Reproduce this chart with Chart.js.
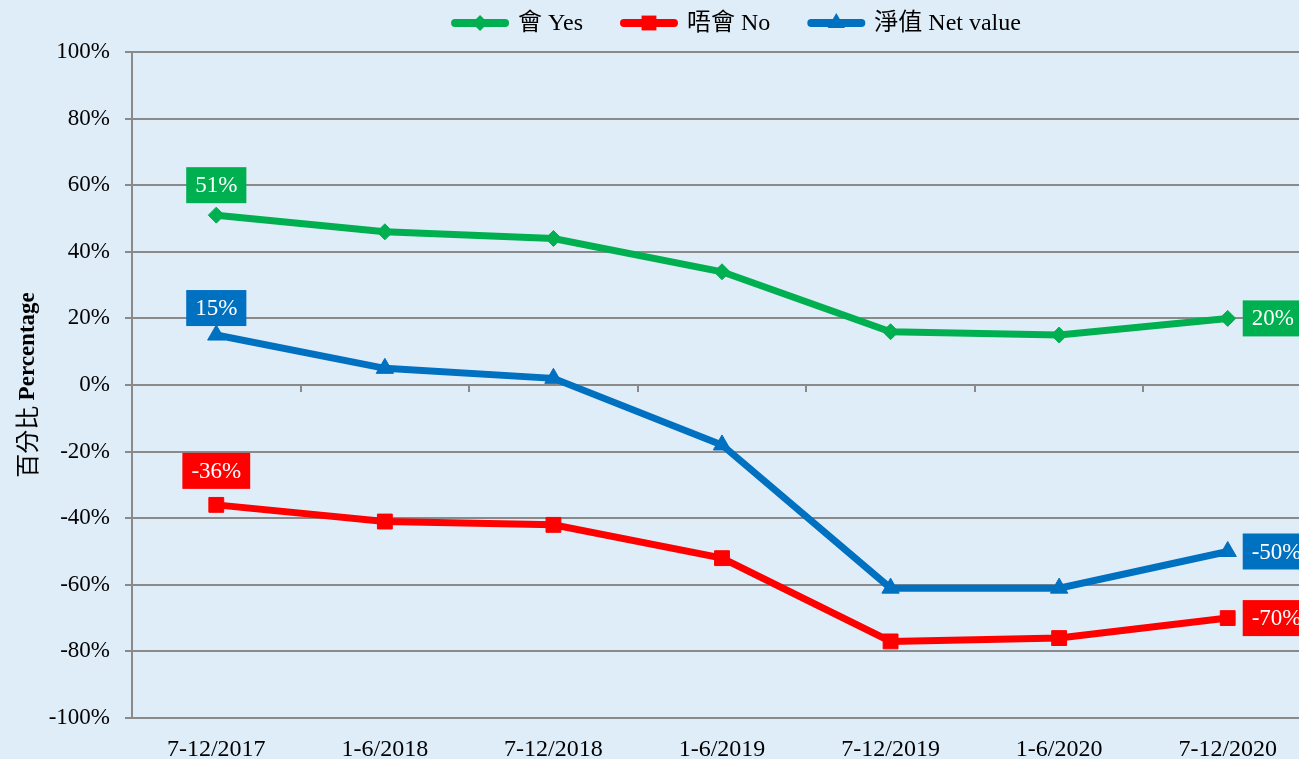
<!DOCTYPE html>
<html>
<head>
<meta charset="utf-8">
<script src="https://cdn.jsdelivr.net/npm/chart.js@4.4.1/dist/chart.umd.min.js"></script>
<style>
  html, body { margin: 0; padding: 0; overflow: hidden; background: #dfedf9; }
  #wrap { width: 1312px; height: 759px; }
  canvas { display: block; }
</style>
</head>
<body>
<div id="wrap"><canvas id="chart" width="1312" height="759"></canvas></div>
<script>
// periods on the x axis
const periods = ['7-12/2017', '1-6/2018', '7-12/2018', '1-6/2019', '7-12/2019', '1-6/2020', '7-12/2020'];
// percentages
const yesValues = [51, 46, 44, 34, 16, 15, 20];
const noValues = [-36, -41, -42, -52, -77, -76, -70];
const netValues = [15, 5, 2, -18, -61, -61, -50];

const BG = '#dfedf9';
const GRID = '#8a8a8a';
const SERIF = '"Liberation Serif", "Noto Sans CJK TC", serif';

// paint the light blue background
const background = {
  id: 'background',
  beforeDraw(chart) {
    const ctx = chart.ctx;
    ctx.save();
    ctx.fillStyle = BG;
    ctx.fillRect(0, 0, chart.width, chart.height);
    ctx.restore();
  }
};

// coloured boxes on first and last point of each line
const endLabels = {
  id: 'endLabels',
  afterDatasetsDraw(chart) {
    const ctx = chart.ctx;
    ctx.save();
    ctx.font = '23px ' + SERIF;
    ctx.textAlign = 'center';
    ctx.textBaseline = 'middle';
    chart.data.datasets.forEach((ds, i) => {
      const pts = chart.getDatasetMeta(i).data;
      [0, pts.length - 1].forEach(j => {
        const p = pts[j];
        const text = ds.data[j] + '%';
        const w = ctx.measureText(text).width + 18;
        const h = 36;
        let x, y;
        if (j === 0) {
          x = p.x - w / 2;
          y = p.y - ds.labelGap - h;
        } else {
          x = p.x + 15;
          y = p.y - h / 2;
        }
        ctx.fillStyle = ds.borderColor;
        ctx.fillRect(x, y, w, h);
        ctx.fillStyle = '#ffffff';
        ctx.fillText(text, x + w / 2, y + h / 2 + 1);
      });
    });
    ctx.restore();
  }
};

// legend with a short line and marker, Excel style
const lineLegend = {
  id: 'lineLegend',
  afterDraw(chart) {
    const ctx = chart.ctx;
    ctx.save();
    ctx.font = '24px ' + SERIF;
    const lineLen = 58, gap = 9, itemGap = 37;
    const items = chart.data.datasets.map(ds => ({ ds, w: ctx.measureText(ds.label).width }));
    const total = items.reduce((s, it) => s + lineLen + gap + it.w, 0) + itemGap * (items.length - 1);
    let x = 736 - total / 2;
    const y = 23;
    items.forEach(it => {
      const c = it.ds.borderColor;
      ctx.strokeStyle = c;
      ctx.lineWidth = 8;
      ctx.lineCap = 'round';
      ctx.beginPath();
      ctx.moveTo(x + 4, y);
      ctx.lineTo(x + lineLen - 4, y);
      ctx.stroke();
      ctx.fillStyle = c;
      Chart.helpers.drawPoint(ctx, { pointStyle: it.ds.pointStyle, radius: it.ds.pointRadius, borderWidth: 0, rotation: 0 }, x + lineLen / 2, y);
      ctx.fillStyle = '#000000';
      ctx.textAlign = 'left';
      ctx.textBaseline = 'middle';
      ctx.fillText(it.ds.label, x + lineLen + gap, y + 1);
      x += lineLen + gap + it.w + itemGap;
    });
    ctx.restore();
  }
};

// rotated y title: Chinese regular, English bold
const yTitle = {
  id: 'yTitle',
  afterDraw(chart) {
    const ctx = chart.ctx;
    const a = chart.chartArea;
    const cn = '百分比 ';
    const en = 'Percentage';
    ctx.save();
    ctx.translate(27, (a.top + a.bottom) / 2);
    ctx.rotate(-Math.PI / 2);
    ctx.textBaseline = 'middle';
    ctx.textAlign = 'left';
    ctx.font = '24px "Noto Sans CJK TC", ' + SERIF;
    const wCn = ctx.measureText(cn).width;
    ctx.font = 'bold 23px ' + SERIF;
    const wEn = ctx.measureText(en).width;
    const start = -(wCn + wEn) / 2;
    ctx.fillStyle = '#000000';
    ctx.font = '24px "Noto Sans CJK TC", ' + SERIF;
    ctx.fillText(cn, start, 0);
    ctx.font = 'bold 23px ' + SERIF;
    ctx.fillText(en, start + wCn, 1);
    ctx.restore();
  }
};

function series(label, data, color, style, radius, labelGap) {
  return {
    label: label,
    data: data,
    borderColor: color,
    backgroundColor: color,
    borderWidth: 7,
    tension: 0,
    pointStyle: style,
    pointRadius: radius,
    pointBackgroundColor: color,
    pointBorderColor: color,
    pointBorderWidth: 1,
    labelGap: labelGap
  };
}

new Chart(document.getElementById('chart').getContext('2d'), {
  type: 'line',
  data: {
    labels: periods,
    datasets: [
      series('會 Yes', yesValues, '#00b050', 'rectRot', 8, 12),
      series('唔會 No', noValues, '#ff0000', 'rect', 10.5, 16),
      series('淨值 Net value', netValues, '#0070c0', 'triangle', 10, 9)
    ]
  },
  options: {
    responsive: false,
    animation: false,
    // canvas is a bit wider than the window so the plot runs past the right edge
    layout: { autoPadding: false, padding: { top: 52, left: 0, right: 0, bottom: 0 } },
    plugins: {
      legend: { display: false },
      tooltip: { enabled: false }
    },
    scales: {
      x: {
        offset: true,
        grid: { display: false },
        border: { display: false },
        ticks: { color: '#000000', font: { family: SERIF, size: 24 }, padding: 9, maxRotation: 0 },
        afterFit(scale) { scale.height = 41; scale.paddingLeft = 0; scale.paddingRight = 0; }
      },
      // small tick marks along the 0% line
      x2: {
        type: 'category',
        position: { y: 0 },
        offset: true,
        grid: { offset: true, drawOnChartArea: false, drawTicks: true, tickLength: 7, color: GRID, lineWidth: 2 },
        border: { display: false },
        ticks: { display: false },
        afterFit(scale) { scale.paddingLeft = 0; scale.paddingRight = 0; }
      },
      y: {
        min: -100,
        max: 100,
        ticks: {
          stepSize: 20,
          color: '#000000',
          font: { family: SERIF, size: 23 },
          padding: 15,
          callback: v => v + '%'
        },
        grid: { color: GRID, lineWidth: 2, tickLength: 7 },
        border: { color: GRID, width: 2 },
        afterFit(scale) { scale.width = 132; }
      }
    }
  },
  plugins: [background, endLabels, lineLegend, yTitle]
});
</script>
</body>
</html>
